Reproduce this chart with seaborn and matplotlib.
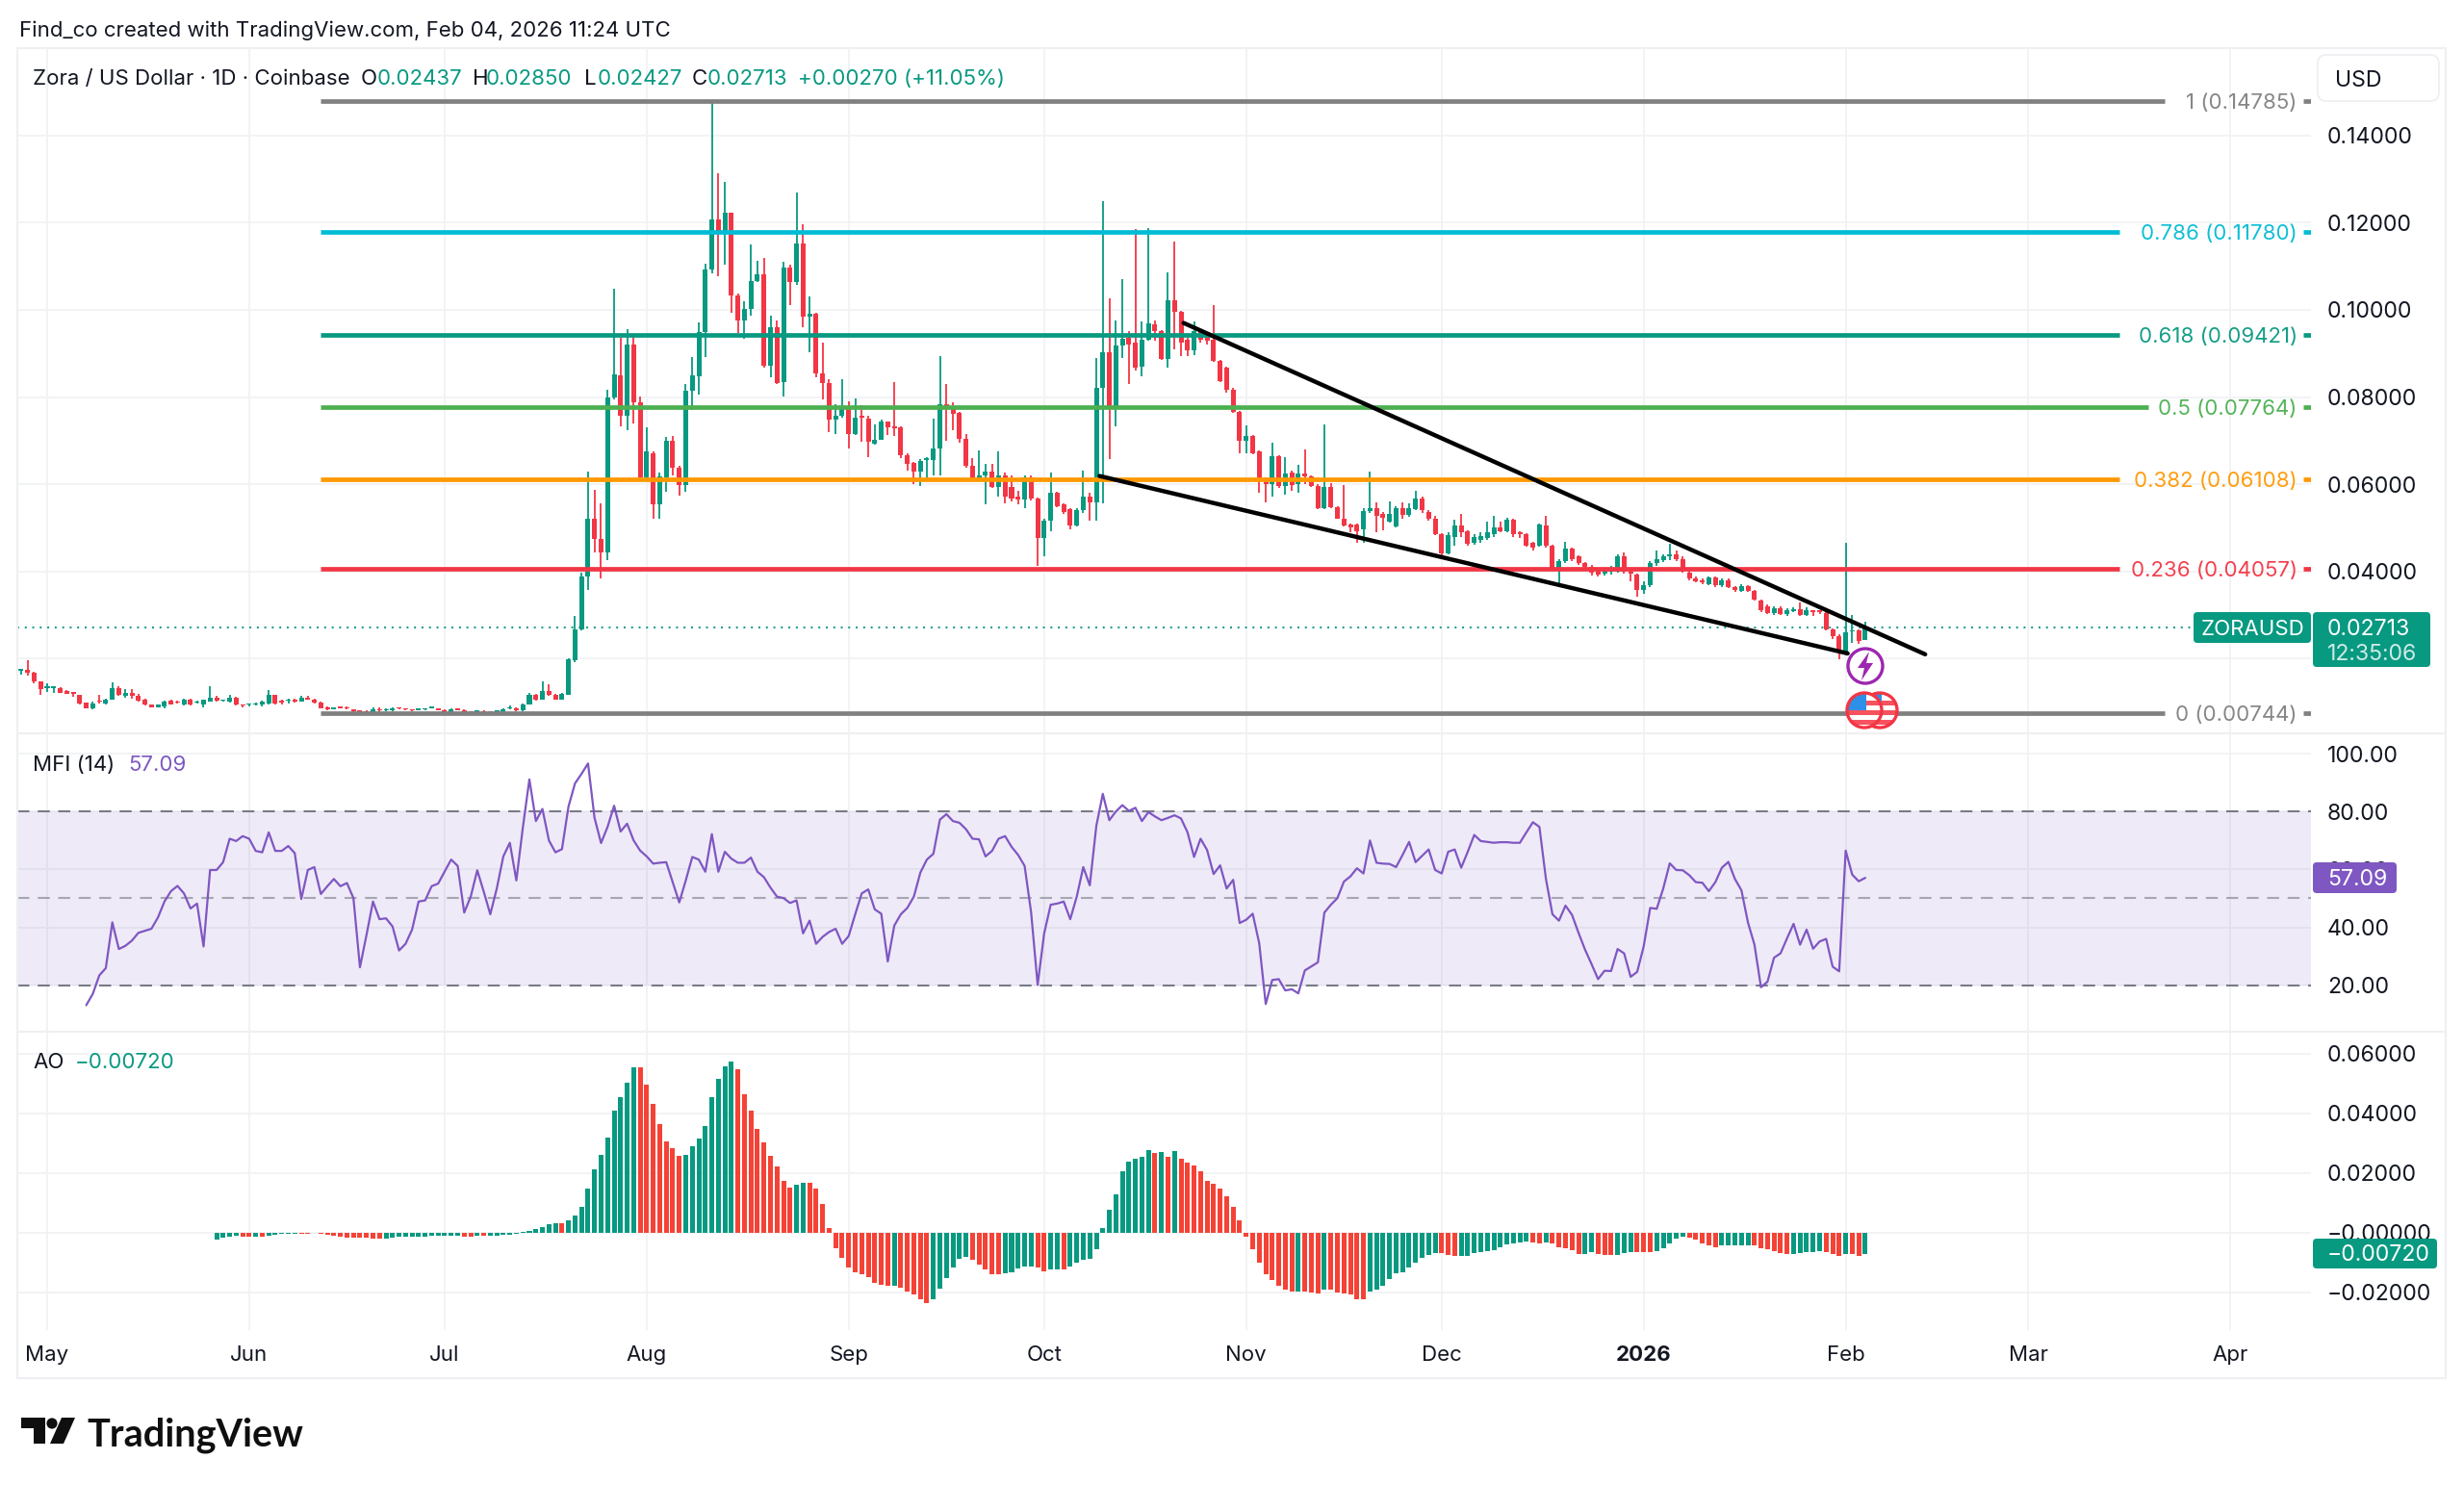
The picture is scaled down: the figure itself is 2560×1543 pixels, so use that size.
import numpy as np
import pandas as pd
import matplotlib
matplotlib.use("Agg")
import matplotlib.pyplot as plt
from matplotlib.patches import Circle, Polygon, FancyBboxPatch, Rectangle
import seaborn as sns

sns.set_theme(style="white")
plt.rcParams['font.family'] = ['Inter', 'DejaVu Sans']

# ---- data (price in thousandths of a dollar) ----
first_day = -4  # days relative to May 1
opens = [
 17.2,17.4,16.7,14.8,13.3,13.3,13.3,12.5,12.2,11.7,
 9.9,8.6,10.4,9.7,10.6,13.3,11.5,12.2,11.5,10.6,
 9.4,8.9,9.1,10.4,10.1,9.6,10.7,9.9,9.6,10.2,
 11.1,10.3,10.2,11.0,9.4,9.4,9.4,9.4,9.7,11.7,
 10.2,10.3,10.7,10.2,11.1,10.7,9.9,8.9,8.4,8.8,
 8.8,8.3,8.1,7.9,7.6,8.4,8.1,8.1,8.7,8.6,
 8.3,8.2,8.3,8.6,8.6,8.2,7.6,8.4,8.2,7.8,
 7.8,8.0,7.8,7.6,7.7,8.5,8.7,8.1,9.6,11.8,
 10.7,12.5,11.8,10.7,11.8,19.6,26.7,38.8,52.0,47.4,
 44.4,79.9,85.0,75.8,92.1,78.9,61.6,67.2,55.4,61.6,
 70.0,63.7,59.9,81.4,84.8,94.9,109.3,120.7,117.6,122.3,
 103.2,97.6,100.2,106.6,108.1,87.2,96.1,83.4,109.6,106.3,
 115.2,98.4,99.2,85.5,83.2,74.8,75.8,77.4,71.6,75.5,
 75.0,69.4,70.3,74.3,73.3,73.0,66.7,65.0,62.9,65.6,
 65.5,68.2,78.4,77.7,76.3,70.5,64.2,61.3,62.1,63.0,
 59.4,62.1,59.4,57.1,56.6,61.6,56.8,47.6,51.7,58.1,
 55.4,54.3,50.5,54.0,57.1,55.8,82.1,90.2,77.9,91.9,
 93.6,92.6,87.0,93.1,96.6,95.1,88.7,102.2,99.5,93.1,
 90.8,95.1,94.1,93.1,88.2,86.7,81.6,76.5,70.0,71.0,
 67.5,61.1,60.1,66.4,59.6,62.7,60.1,62.5,61.8,59.6,
 54.5,59.3,54.8,52.2,50.7,50.7,49.7,53.8,54.5,53.3,
 51.5,50.3,54.5,53.0,54.3,56.8,53.7,52.0,48.5,44.2,
 48.0,50.5,49.3,46.6,47.2,47.6,48.5,50.0,49.3,51.8,
 49.0,48.5,46.6,45.9,50.5,45.9,40.9,42.4,45.2,43.4,
 41.9,41.1,40.1,39.6,40.0,40.0,43.4,40.0,39.3,35.8,
 36.8,41.9,42.6,43.4,43.9,42.9,39.8,38.5,38.0,37.1,
 38.6,36.8,38.0,36.5,35.6,36.6,35.5,33.3,32.0,30.4,
 31.6,30.2,31.0,31.4,30.0,31.0,31.0,30.4,26.7,25.1,
 21.6,26.2,26.4,24.37]
highs = [
 17.7,19.6,16.9,14.9,14.3,13.7,13.5,12.7,12.3,11.8,
 10.0,10.1,11.8,10.9,14.5,13.6,13.0,13.0,12.0,10.9,
 9.5,9.6,10.3,10.7,10.4,10.9,10.9,10.3,10.7,13.7,
 11.5,10.7,11.7,11.2,9.5,9.7,9.9,10.3,12.9,11.8,
 10.7,10.9,10.9,11.4,11.4,10.9,10.1,9.0,8.9,9.0,
 9.1,8.4,8.2,8.1,8.8,8.9,8.6,8.8,8.8,8.7,
 8.4,8.5,8.6,8.9,8.7,8.3,8.5,8.5,8.3,7.9,
 8.0,8.1,7.9,8.2,8.6,9.2,8.8,9.8,12.2,12.0,
 14.8,14.2,12.0,12.2,20.1,29.7,39.8,62.9,58.8,55.6,
 81.7,104.9,93.6,95.6,94.3,80.2,73.0,67.5,62.7,70.8,
 71.0,64.2,82.9,89.2,97.1,110.5,147.8,131.4,129.3,122.3,
 103.7,101.9,114.9,111.3,112.0,98.7,97.6,111.0,110.3,127.0,
 119.6,103.0,99.4,92.6,84.0,78.4,84.0,79.1,79.7,78.1,
 75.8,73.8,74.8,74.5,83.4,73.3,67.2,65.2,65.7,66.2,
 75.0,89.4,83.1,78.9,76.6,71.6,65.9,67.7,64.7,64.7,
 67.5,62.7,62.1,58.6,62.1,62.1,57.0,52.0,62.7,58.3,
 55.6,54.5,54.5,63.2,58.1,89.0,125.0,102.7,97.6,107.0,
 95.1,118.6,97.3,118.7,97.6,95.3,108.6,115.7,99.7,93.6,
 97.3,95.6,94.6,101.2,88.5,87.0,82.1,76.9,73.6,71.3,
 67.7,61.6,69.6,66.7,66.2,63.2,64.5,67.9,62.1,60.1,
 73.8,60.3,55.0,59.9,51.0,51.0,54.5,62.9,55.9,53.7,
 56.1,55.0,55.8,55.6,58.6,57.1,54.0,52.8,48.7,49.0,
 51.8,53.3,49.5,48.5,49.0,51.5,52.8,51.5,52.3,52.0,
 49.3,48.7,46.9,51.0,52.7,46.2,42.9,46.9,45.4,43.6,
 42.2,41.4,40.3,40.7,41.2,43.9,44.4,40.3,39.5,37.8,
 42.4,44.9,43.9,46.4,44.9,43.4,40.3,38.8,38.5,38.9,
 38.8,38.3,38.3,36.7,37.0,36.8,35.7,33.5,32.4,32.0,
 31.9,31.6,31.7,32.9,31.7,31.2,31.2,30.7,27.0,25.6,
 46.6,30.0,26.7,28.5]
lows = [
 16.3,16.2,14.4,11.8,12.4,12.2,12.1,11.9,11.3,9.6,
 8.6,8.4,9.7,9.6,10.5,11.5,11.0,10.9,10.2,9.2,
 8.8,8.8,8.7,9.4,9.7,9.3,9.3,9.7,8.9,10.1,
 10.1,10.1,10.0,9.2,8.8,9.0,9.2,9.0,9.6,9.6,
 9.5,9.8,9.9,10.1,10.5,9.8,8.6,8.2,8.3,8.5,
 8.4,7.8,7.5,7.5,7.5,7.8,7.9,8.0,8.4,8.2,
 8.0,8.1,8.2,8.5,8.1,7.4,7.4,8.1,7.5,7.5,
 7.7,7.6,7.5,7.5,7.6,8.4,7.9,8.0,9.5,10.3,
 10.5,11.5,10.5,10.5,11.7,19.1,26.4,35.8,44.4,38.5,
 42.6,79.4,73.3,72.3,74.0,60.6,61.1,52.0,52.2,58.3,
 62.1,57.4,58.3,77.1,80.6,89.2,108.3,107.8,110.3,99.4,
 94.6,93.4,98.7,106.3,86.8,84.5,82.9,80.1,101.2,105.8,
 96.1,90.2,84.5,79.4,72.0,71.5,75.3,68.2,71.3,69.8,
 66.2,69.2,70.1,71.3,71.0,66.0,63.2,60.1,59.6,61.1,
 62.1,62.1,70.0,72.3,69.6,63.7,61.1,60.8,55.3,59.1,
 57.1,55.6,56.1,55.4,54.5,56.4,41.2,43.4,49.3,54.8,
 53.3,49.7,50.3,53.5,51.7,51.7,55.6,65.7,73.3,89.0,
 82.9,86.2,84.8,92.9,92.9,88.5,86.7,91.0,89.5,89.5,
 89.7,92.6,92.1,88.0,83.5,81.1,76.3,67.0,67.2,66.9,
 58.1,55.9,57.1,59.1,57.6,58.4,58.1,60.1,59.4,54.3,
 54.3,54.5,52.0,50.3,49.0,46.6,46.6,53.5,49.0,49.5,
 51.3,50.2,52.0,52.5,54.1,53.5,51.7,48.3,42.9,43.9,
 45.9,48.0,45.9,46.2,46.6,47.2,48.0,49.0,49.0,48.0,
 47.6,45.6,44.9,45.6,45.4,40.5,37.1,41.9,42.4,41.4,
 40.5,39.1,38.9,39.1,39.3,39.7,39.5,37.8,34.3,34.8,
 36.5,41.2,42.2,42.6,42.4,39.8,38.0,37.5,37.1,36.8,
 36.5,36.5,36.3,35.3,35.3,35.3,33.3,30.7,30.2,30.1,
 30.0,29.9,30.7,29.7,29.7,29.9,30.2,26.4,24.6,19.9,
 21.3,23.6,23.3,24.27]
closes = [
 17.4,16.8,14.7,13.0,13.5,13.5,12.2,12.0,12.0,9.7,
 8.7,9.8,10.1,10.7,13.3,11.7,12.2,11.5,10.4,9.4,
 8.9,9.5,10.2,9.6,9.9,10.7,9.4,10.1,10.6,11.1,
 10.3,10.6,11.1,9.4,9.2,9.6,9.8,10.1,11.7,9.8,
 10.0,10.6,10.1,11.1,10.7,9.9,8.7,8.4,8.7,8.6,
 8.5,7.9,7.6,7.6,8.4,8.1,8.2,8.6,8.5,8.3,
 8.1,8.4,8.5,8.8,8.2,7.5,8.3,8.2,7.6,7.6,
 7.9,7.7,7.7,8.1,8.4,8.7,8.1,9.6,11.8,10.6,
 12.5,11.7,10.7,12.0,19.9,26.7,38.8,52.0,47.4,44.4,
 79.9,85.2,75.8,92.1,78.9,61.6,67.5,55.4,61.8,70.0,
 63.7,59.9,81.4,85.0,94.9,109.3,120.7,117.6,122.3,103.2,
 97.6,100.2,106.6,108.1,87.2,96.1,83.2,109.6,106.3,115.2,
 98.4,99.2,85.5,83.2,74.8,75.8,77.4,71.6,75.3,75.3,
 69.8,70.3,74.5,73.1,72.8,66.7,64.7,62.9,65.4,65.8,
 68.2,78.4,77.4,76.1,70.5,64.2,61.3,62.1,63.0,59.4,
 62.1,57.1,56.8,56.6,61.6,56.8,47.6,51.7,58.1,55.0,
 53.7,50.5,54.0,57.1,55.8,82.1,90.2,77.9,91.9,93.3,
 92.1,86.7,93.1,96.9,95.1,88.7,102.2,99.5,92.6,90.8,
 95.1,93.1,92.9,88.2,83.7,81.6,76.5,70.0,71.0,67.2,
 61.1,60.1,66.4,59.6,62.5,59.9,62.5,61.8,59.6,54.5,
 59.3,54.8,52.2,50.5,50.0,49.3,53.8,54.5,52.8,52.3,
 53.3,54.5,53.0,54.5,56.8,54.0,52.0,48.5,44.2,48.3,
 50.5,49.0,46.4,48.0,48.2,49.0,50.0,49.3,51.8,48.5,
 48.5,45.9,45.4,50.7,45.9,40.9,42.4,45.2,42.9,41.9,
 41.1,39.8,39.3,40.3,40.9,43.4,40.0,39.5,35.8,36.8,
 41.9,42.9,43.4,43.9,42.9,40.1,38.3,37.8,37.5,38.6,
 36.8,38.0,36.5,35.8,36.6,35.6,33.5,31.2,30.4,31.5,
 30.2,31.2,31.4,30.0,31.2,30.7,30.7,26.7,25.1,21.6,
 26.0,26.4,24.1,27.13]

mfi_first_day = 6
mfi_values = [
 13.1,17.0,23.4,25.9,41.7,32.5,33.6,35.4,38.1,38.8,
 39.5,43.4,48.9,52.5,54.3,51.7,46.5,48.2,33.4,59.8,
 59.8,62.5,70.6,69.8,71.5,70.6,66.4,65.9,72.8,66.4,
 66.4,68.1,65.6,49.8,59.8,60.8,51.5,54.2,56.7,54.2,
 55.3,50.1,26.2,37.3,48.9,42.8,43.1,40.3,32.0,34.3,
 39.2,48.9,49.3,54.2,55.1,59.3,63.4,61.2,45.1,50.6,
 59.7,52.3,44.5,53.4,64.5,69.2,56.2,74.5,91.1,76.7,
 80.9,70.0,65.9,67.0,81.7,89.7,93.0,96.6,77.8,69.1,
 74.7,82.0,73.1,75.8,70.0,66.5,64.5,62.0,62.3,62.5,
 55.6,48.6,56.2,64.3,63.4,59.2,72.2,59.2,66.1,63.7,
 62.3,62.3,64.1,59.2,57.3,53.7,50.6,50.1,48.4,49.3,
 37.9,42.3,34.3,36.7,38.4,39.5,34.3,37.0,44.5,51.7,
 53.1,46.2,44.7,28.2,40.6,44.5,46.7,50.6,58.9,63.4,
 65.4,77.2,79.1,76.7,
 76.1,73.9,70.6,70.4,64.5,66.4,70.6,71.5,67.8,65.0,
 61.2,45.1,20.1,37.9,47.8,48.2,48.9,42.8,50.6,60.8,
 54.5,75.0,86.1,77.0,80.0,82.2,80.2,81.3,76.7,79.8,
 78.3,77.0,77.8,78.7,77.6,72.8,64.3,70.6,66.7,58.4,
 61.4,53.4,56.4,41.5,42.6,44.7,34.5,13.5,21.8,22.1,
 18.2,18.6,17.2,25.1,26.5,27.9,45.1,47.8,50.1,55.8,
 57.6,60.4,58.6,70.0,62.3,62.0,61.9,60.8,65.0,69.5,
 62.5,64.7,66.9,59.8,58.6,66.1,66.9,60.6,66.1,71.9,
 69.8,69.5,69.2,69.4,69.4,69.2,69.2,72.8,76.3,74.7,
 56.7,44.5,42.3,47.5,44.3,38.1,32.3,27.3,22.1,25.0,
 24.9,32.5,31.0,22.9,24.6,33.4,46.7,46.4,53.4,62.1,
 59.8,59.7,58.0,55.6,55.4,52.5,55.6,60.6,62.6,56.7,
 52.8,41.7,34.0,19.3,21.2,29.5,31.0,36.2,41.2,34.0,
 39.2,32.6,35.1,36.0,26.4,24.8,66.5,58.2,55.9,57.09]

ao_first_day = 26
ao_values = [
 -2.3,-1.7,-1.4,-1.1,
 -1.4,-1.4,-1.4,-1.4,-1.1,-0.9,-0.5,-0.3,-0.3,-0.3,
 -0.3,-0.2,-0.5,-0.9,-1.2,-1.4,-1.7,-1.7,-1.7,-1.7,
 -2.0,-2.0,-1.9,-1.6,-1.5,-1.5,-1.5,-1.5,-1.4,-1.2,
 -1.2,-1.2,-1.2,-1.2,-1.3,-1.3,-1.1,-1.2,-1.1,-1.1,
 -0.9,-0.6,-0.4,0.1,0.4,1.2,1.8,2.8,3.1,3.1,
 4.0,5.7,8.7,14.9,21.2,25.9,31.9,40.9,45.4,50.2,
 55.3,55.3,49.5,43.2,36.4,30.7,28.4,25.7,26.0,28.9,
 31.4,35.6,45.4,51.6,55.8,57.3,54.9,46.2,40.9,34.9,
 30.1,25.7,22.0,17.3,15.1,15.9,16.8,16.8,14.6,9.6,
 1.6,-5.2,-8.4,-11.6,-13.4,-14.0,-14.8,-16.8,-17.5,-17.7,
 -17.7,-18.5,-19.7,-20.9,-22.4,-23.8,-22.4,-18.9,-15.2,-11.6,
 -8.8,-8.2,-9.2,-10.9,-12.5,-13.9,-13.9,-13.7,-13.3,-12.1,
 -11.3,-11.3,-11.8,-13.0,-12.5,-12.5,-12.5,-11.3,-10.0,-9.1,
 -8.9,-5.6,1.5,7.5,12.9,20.6,23.7,24.7,25.4,27.8,
 26.6,26.9,25.4,27.2,24.7,23.3,22.5,20.6,17.3,16.3,
 14.7,12.0,8.7,4.0,-1.4,-5.6,-10.0,-14.0,-15.9,-17.7,
 -19.2,-19.9,-19.9,-19.9,-20.2,-20.5,-19.0,-19.0,-20.2,-20.5,
 -20.7,-22.3,-22.3,-19.9,-19.2,-17.7,-15.7,-13.7,-13.3,-11.8,
 -10.0,-8.5,-7.4,-6.8,-7.0,-7.6,-8.0,-7.7,-7.7,-6.8,
 -6.5,-6.2,-5.9,-4.9,-4.1,-3.5,-3.2,-2.9,-3.2,-3.5,
 -3.2,-3.8,-4.9,-5.3,-5.8,-7.1,-7.1,-6.5,-7.1,-7.4,
 -7.6,-7.4,-6.8,-6.5,-6.7,-6.7,-6.7,-6.2,-5.3,-3.8,
 -2.0,-1.4,-1.7,-2.4,-3.5,-4.3,-4.8,-4.4,-4.4,-4.4,
 -4.4,-4.4,-4.4,-5.1,-5.6,-6.2,-6.8,-7.1,-7.1,-6.8,
 -6.5,-6.5,-6.1,-6.5,-7.1,-8.0,-7.1,-7.3,-7.7,-7.2]
ao_rising = ("gggg" "rrgrgggggr" "rgrrrrrrrr" "rrgggggggg" "ggggrrgrgg"
             "gggggggggr" "gggggggggg" "grrrrrrrgg" "ggggggrrrr" "rrrrrggrrr"
             "rrrrrrrrrr" "grrrrrgggg" "ggrrrrrggg" "ggrrggrggg" "gggggggggg"
             "rgrgrrrrrr" "rrrrrrrrrr" "rrgrrrgrrr" "rrrggggggg" "ggggrrrggg"
             "ggggggggrr" "grrrrrggrr" "rgggrrrggg" "ggrrrrrggg" "ggrrrrrrgg"
             "gggrrrgrrg")

fib_levels = [("1", 0.14785, "#808080", 325), ("0.786", 0.11780, "#00BCD4", 318),
              ("0.618", 0.09421, "#089981", 318), ("0.5", 0.07764, "#4CAF50", 322.4),
              ("0.382", 0.06108, "#FF9800", 318), ("0.236", 0.04057, "#F23645", 318),
              ("0", 0.00744, "#808080", 325)]
fib_start_day = 42
trend_upper = ([174.4, 288.2], [0.0970, 0.0210])
trend_lower = ([161.5, 276.3], [0.0619, 0.0212])
last_price = 0.02713
month_days = [0, 31, 61, 92, 123, 153, 184, 214, 245, 276, 304, 335]
month_labels = ["May", "Jun", "Jul", "Aug", "Sep", "Oct", "Nov", "Dec", "2026", "Feb", "Mar", "Apr"]
price_ticks = [0.02, 0.04, 0.06, 0.08, 0.10, 0.12, 0.14]
mfi_ticks = [20, 40, 60, 80, 100]
ao_ticks = [-0.02, 0, 0.02, 0.04, 0.06]
ao_tick_labels = ["\u22120.02000", "\u22120.00000", "0.02000", "0.04000", "0.06000"]

assert len(opens) == len(highs) == len(lows) == len(closes) == 284
assert len(mfi_values) == 274
assert len(ao_values) == 254 and len(ao_rising) == 254

GREEN, RED, AO_RED, PURPLE, INK, GRID = "#089981", "#F23645", "#F44336", "#7E57C2", "#131722", "#F1F2F4"
W, H = 2560, 1543
FS = 16.0
TICK_FS = 16.6

fig = plt.figure(figsize=(W / 100, H / 100), dpi=100, facecolor="white")

def panel(top, bottom, left=18, right=2401):
    ax = fig.add_axes([left / W, 1 - bottom / H, (right - left) / W, (bottom - top) / H])
    ax.set_facecolor("white")
    sns.despine(ax=ax, left=True, bottom=True, right=True, top=True)
    ax.set_xlim(-4.579, 347.4)
    ax.set_xticks(month_days)
    ax.grid(True, color=GRID, lw=1.3, zorder=0)
    ax.set_axisbelow(True)
    ax.yaxis.tick_right()
    ax.tick_params(axis="both", length=0, labelsize=TICK_FS, colors=INK, pad=12.2)
    return ax

# ---- price panel ----
ax = panel(50, 762)
days = np.arange(len(opens)) + first_day
o, h, l, c = [np.array(a) / 1000 for a in (opens, highs, lows, closes)]
up = c >= o
for mask, col in ((up, GREEN), (~up, RED)):
    ax.vlines(days[mask], l[mask], h[mask], color=col, lw=1.3, zorder=3)
    ax.bar(days[mask], np.maximum(np.abs(c - o)[mask], 0.00035), bottom=np.minimum(o, c)[mask],
           width=0.74, color=col, zorder=3, linewidth=0)
ax.axhline(last_price, color=GREEN, lw=1.4, ls=(0, (1, 3)), zorder=2)
for name, lev, col, end in fib_levels:
    ax.plot([fib_start_day, end], [lev, lev], color=col, lw=3.4, zorder=4, solid_capstyle="butt")
    ax.text(345.3, lev, f"{name} ({lev:.5f})", color=col, fontsize=FS, ha="right", va="center_baseline", zorder=5, alpha=0.95)
    ax.plot([346.2, 347.4], [lev, lev], color=col, lw=3.4, zorder=4, solid_capstyle="butt")
for xs, ys in (trend_upper, trend_lower):
    ax.plot(xs, ys, color="black", lw=3.2, zorder=6, solid_capstyle="round")
ax.set_ylim(0.00287, 0.16004)
ax.set_yticks(price_ticks)
ax.set_yticklabels([f"{t:.5f}" for t in price_ticks])
ax.tick_params(axis="x", labelbottom=False)

# ---- MFI panel ----
ax2 = panel(762, 1072)
mfi_df = pd.DataFrame({"day": np.arange(len(mfi_values)) + mfi_first_day, "mfi": mfi_values})
ax2.axhspan(20, 80, color=PURPLE, alpha=0.12, lw=0, zorder=1)
for lev, a in ((80, 1), (50, 0.6), (20, 1)):
    ax2.axhline(lev, color="#787B86", lw=1.5, ls=(0, (6, 4.2)), alpha=a, zorder=2)
sns.lineplot(data=mfi_df, x="day", y="mfi", color=PURPLE, lw=1.6, ax=ax2, zorder=3, errorbar=None)
ax2.set_ylim(3.94, 107.0)
ax2.set_xlim(-4.579, 347.4)
ax2.set_yticks(mfi_ticks)
ax2.set_yticklabels([f"{t:.2f}" for t in mfi_ticks])
ax2.set_xlabel("")
ax2.set_ylabel("")
ax2.tick_params(axis="x", labelbottom=False)

# ---- AO panel ----
ax3 = panel(1072, 1382)
ao_df = pd.DataFrame({"day": np.arange(len(ao_values)) + ao_first_day,
                      "ao": np.array(ao_values) / 1000,
                      "dir": list(ao_rising)})
sns.barplot(data=ao_df, x="day", y="ao", hue="dir", palette={"g": GREEN, "r": AO_RED},
            native_scale=True, dodge=False, width=0.74, saturation=1, legend=False,
            linewidth=0, ax=ax3, zorder=3)
ax3.set_xlim(-4.579, 347.4)
ax3.set_ylim(-0.03268, 0.06732)
ax3.set_yticks(ao_ticks)
ax3.set_yticklabels(ao_tick_labels)
ax3.set_xlabel("")
ax3.set_ylabel("")
ax3.set_xticks(month_days)
ax3.set_xticklabels(month_labels)
ax3.tick_params(axis="x", pad=11.5, labelsize=FS, labelbottom=True, labeltop=False)
for t in ax3.get_xticklabels():
    if t.get_text() == "2026":
        t.set_fontweight("bold")

# ---- overlay in image pixels: frame, header, legends, price tags, icons, logo ----
ov = fig.add_axes([0, 0, 1, 1], zorder=10)
ov.set_xlim(0, W)
ov.set_ylim(H, 0)
ov.axis("off")
ov.patch.set_alpha(0)

for xs, ys in (([18, 2541, 2541, 18, 18], [50, 50, 1432, 1432, 50]),
               ([18, 2541], [762, 762]), ([18, 2541], [1072, 1072])):
    ov.plot(xs, ys, color="#EEF0F3", lw=1.6)

def txt(x, y, s, color=INK, size=FS, ha="left", **kw):
    ov.text(x, y, s, color=color, fontsize=size, ha=ha, va="center_baseline", **kw)

txt(20, 30, "Find_co created with TradingView.com, Feb 04, 2026 11:24 UTC")
txt(34, 80, "Zora / US Dollar \u00b7 1D \u00b7 Coinbase")
for xl, xv, lab, val in ((375, 392, "O", "0.02437"), (491, 505, "H", "0.02850"),
                         (607, 621, "L", "0.02427"), (719, 735, "C", "0.02713")):
    txt(xl, 80, lab)
    txt(xv, 80, val, color=GREEN)
txt(829, 80, "+0.00270 (+11.05%)", color=GREEN)
txt(34, 793, "MFI (14)")
txt(133, 793, "57.09", color=PURPLE)
txt(34, 1102, "AO")
txt(78, 1102, "\u22120.00720", color=GREEN)

def tag(x0, y0, x1, y1, fc, ec="none", r=4, z=11):
    ov.add_patch(FancyBboxPatch((x0 + r, y0 + r), x1 - x0 - 2 * r, y1 - y0 - 2 * r,
                                boxstyle=f"round,pad={r},rounding_size={r}", fc=fc, ec=ec, lw=1.2, zorder=z))

tag(2279, 636, 2401, 668, GREEN)
txt(2340, 652, "ZORAUSD", color="white", ha="center", zorder=12)
tag(2403, 636, 2525, 693, GREEN)
txt(2418, 652, "0.02713", color="white", size=TICK_FS, zorder=12)
txt(2418, 678, "12:35:06", color="#CDEBE5", size=TICK_FS, zorder=12)
tag(2403, 896, 2490, 928, PURPLE)
txt(2418, 912, "57.09", color="white", size=TICK_FS, zorder=12)
tag(2403, 1287, 2532, 1318, GREEN)
txt(2418, 1302, "\u22120.00720", color="white", size=TICK_FS, zorder=12)
tag(2408, 57, 2534, 105, "white", ec="#EDEEF1", r=9)
txt(2426, 81, "USD", zorder=12, size=TICK_FS)

# event icons
P = "#9C27B0"
ov.add_patch(Circle((1938, 692), 18, fc="white", ec=P, lw=2.4, zorder=12))
ov.add_patch(Polygon([(1942, 677), (1930, 694), (1937, 694), (1934, 707), (1946, 689), (1939, 689)],
                     closed=True, fc=P, ec="none", zorder=13))
for z0, cx in ((12, 1953), (20, 1937)):
    ring = Circle((cx, 738), 18, fc="white", ec="none", zorder=z0)
    ov.add_patch(ring)
    for k in range(3):
        s = Rectangle((cx - 18, 728 + k * 10), 36, 5, fc="#F7525F", ec="none", zorder=z0 + 1)
        ov.add_patch(s)
        s.set_clip_path(ring)
    b = Rectangle((cx - 18, 720), 20, 18, fc="#2E8FE8", ec="none", zorder=z0 + 2)
    ov.add_patch(b)
    b.set_clip_path(ring)
    ov.add_patch(Circle((cx, 738), 18, fc="none", ec=RED, lw=2.4, zorder=z0 + 3))

# logo
LK = "#0F0F0F"
ov.add_patch(Polygon([(22, 1473), (47, 1473), (47, 1500), (35, 1500), (35, 1484), (22, 1484)], closed=True, fc=LK, ec="none"))
ov.add_patch(Circle((54, 1479), 5.6, fc=LK, ec="none"))
ov.add_patch(Polygon([(64, 1473), (78, 1473), (66, 1500), (52, 1500)], closed=True, fc=LK, ec="none"))
ov.text(90, 1488, "TradingView", fontsize=28.5, fontweight="bold", color=LK, ha="left", va="center_baseline", family="Lato")

fig.savefig("out.png", dpi=100, facecolor="white")
